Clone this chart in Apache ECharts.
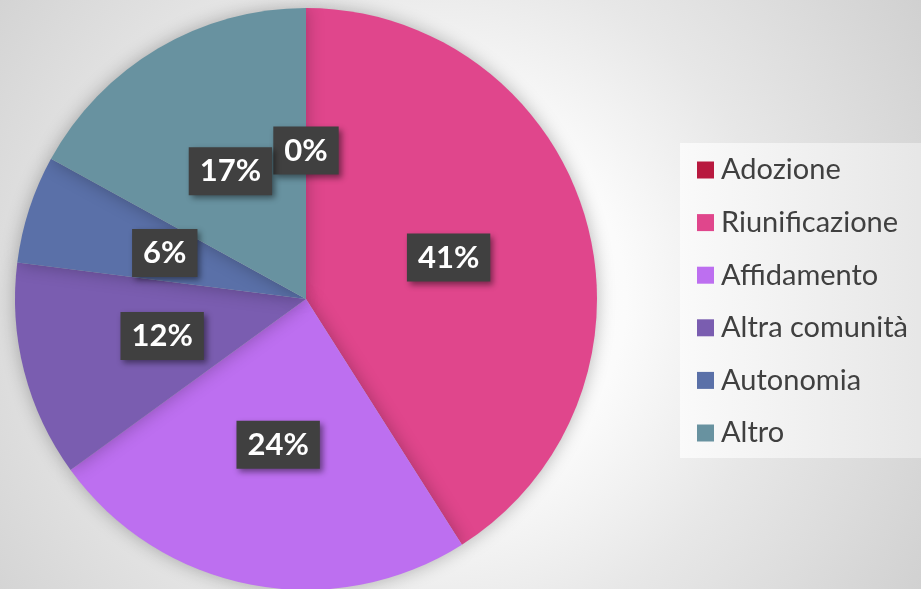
<!DOCTYPE html>
<html>
<head>
<meta charset="utf-8">
<script src="https://cdn.jsdelivr.net/npm/echarts@6/dist/echarts.min.js"></script>
<style>
  html, body { margin: 0; padding: 0; }
  #chart { width: 921px; height: 589px; }
</style>
</head>
<body>
<div id="chart"></div>
<script>
// dati (percentuali)
const categories = ['Adozione', 'Riunificazione', 'Affidamento', 'Altra comunità', 'Autonomia', 'Altro']
const values = [0, 41, 24, 12, 6, 17]
const colors = ['#b8193f', '#e0468c', '#bd6ff0', '#7a5db0', '#5a70a8', '#6892a0']

const chart = echarts.init(document.getElementById('chart'))

chart.setOption({
  animation: false,
  backgroundColor: {
    type: 'radial',
    x: 440,
    y: 300,
    r: 620,
    global: true,
    colorStops: [
      { offset: 0, color: '#ffffff' },
      { offset: 0.3, color: '#fbfbfb' },
      { offset: 0.55, color: '#e7e7e7' },
      { offset: 1, color: '#cbcbcb' }
    ]
  },
  color: colors,
  legend: {
    orient: 'vertical',
    left: 680,
    top: 143,
    width: 241,
    padding: [12, 60, 10, 17],
    itemWidth: 17,
    itemHeight: 17,
    itemGap: 22.6,
    icon: 'rect',
    backgroundColor: {
      type: 'linear',
      x: 0, y: 0, x2: 1, y2: 0,
      colorStops: [
        { offset: 0, color: '#fafafa' },
        { offset: 1, color: '#e3e3e3' }
      ]
    },
    textStyle: {
      fontFamily: 'Lato',
      fontSize: 29,
      lineHeight: 30,
      color: '#404040',
      padding: [0, 0, 0, 2]
    },
    data: categories
  },
  series: [
    {
      type: 'pie',
      center: [306, 299],
      radius: [0, 291],
      startAngle: 90,
      clockwise: true,
      emphasis: { disabled: true },
      itemStyle: {
        shadowBlur: 18,
        shadowColor: 'rgba(0,0,0,0.28)'
      },
      label: {
        position: 'inside',
        formatter: '{c}%',
        fontFamily: 'Lato',
        fontWeight: 'bold',
        fontSize: 31,
        lineHeight: 30,
        color: '#ffffff',
        backgroundColor: '#404040',
        padding: [9, 11, 9, 11],
        shadowColor: 'rgba(0,0,0,0.45)',
        shadowBlur: 6,
        shadowOffsetX: 3,
        shadowOffsetY: 3
      },
      labelLine: { show: false },
      data: categories.map((name, i) => ({ name, value: values[i] }))
    }
  ]
})
</script>
</body>
</html>
